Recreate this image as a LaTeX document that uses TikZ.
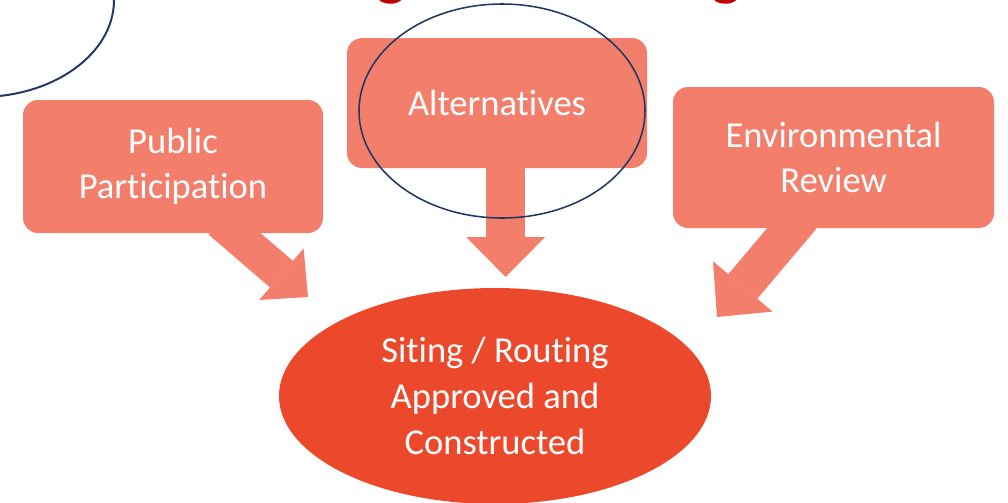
\documentclass[tikz,border=0pt]{standalone}
\usepackage{fontspec}
\setmainfont{Carlito}[Ligatures=NoCommon]
\usepackage{xcolor}
\definecolor{salmon-400}{RGB}{242,126,107}
\definecolor{red-600}{RGB}{236,73,44}
\definecolor{red-900}{RGB}{192,0,0}
\definecolor{navy-800}{RGB}{31,56,100}
\usepackage{tikz}
\usetikzlibrary{arrows.meta,shapes.geometric,positioning}

\begin{document}
\begin{tikzpicture}[
    every node/.style={inner sep=0pt},
    topicbox/.style={
        fill=salmon-400,
        rounded corners=0.38cm,
        text=white,
        align=center,
        font=\fontsize{26}{32}\selectfont
    },
    feedarrow/.style n args={3}{
        salmon-400,
        line width=#1,
        -{Triangle[width=#2, length=#3, line width=0pt]}
    }
]

% Page area
\useasboundingbox (0,0) rectangle (25.2,-12.55);
\clip (0,0) rectangle (25.2,-12.55);

% Title (cut off at the top edge)
\node[font=\fontsize{45}{54}\selectfont\bfseries, text=red-900, anchor=base] (title g1) at (9.79,0.16) {g};
\node[font=\fontsize{45}{54}\selectfont\bfseries, text=red-900, anchor=base] (title g2) at (18.16,0.16) {g};

% Corner ring
\node[ellipse, draw=navy-800, line width=1.4pt, minimum width=6.7cm, minimum height=4.85cm] (corner ring) at (-0.5,0) {};

% Input boxes
\node[topicbox, minimum width=7.5cm, minimum height=3.325cm] (pub) at (4.325,-4.1625) {Public\\Participation};
\node[topicbox, minimum width=7.5cm, minimum height=3.25cm] (alt) at (12.425,-2.575) {Alternatives};
\node[topicbox, minimum width=8.025cm, minimum height=3.525cm] (env) at (20.8375,-3.9375) {Environmental\\Review};

% Outcome
\node[
    ellipse,
    fill=red-600,
    minimum width=10.8cm,
    minimum height=5.4cm,
    text=white,
    align=center,
    font=\fontsize{26}{32.5}\selectfont
] (site) at (12.375,-9.9) {Siting / Routing\\Approved and\\Constructed};

% Arrow tips
\coordinate (pub tip) at (7.7,-7.425);
\coordinate (alt tip) at (12.64,-6.925);
\coordinate (env tip) at (17.925,-7.925);

% Block arrows
\draw[feedarrow={0.875cm}{1.7cm}{0.875cm}] ([xshift=1.175cm, yshift=0.3cm]pub.south) -- (pub tip);
\draw[feedarrow={0.975cm}{1.975cm}{1cm}] ([xshift=0.215cm, yshift=0.3cm]alt.south) -- (alt tip);
\draw[feedarrow={0.95cm}{1.95cm}{1cm}] ([xshift=-0.795cm, yshift=0.29cm]env.south) -- (env tip);

% Highlight ring
\node[ellipse, draw=navy-800, line width=1.1pt, minimum width=7.15cm, minimum height=5.35cm] (alt ring) at (12.55,-2.775) {};

\end{tikzpicture}
\end{document}
